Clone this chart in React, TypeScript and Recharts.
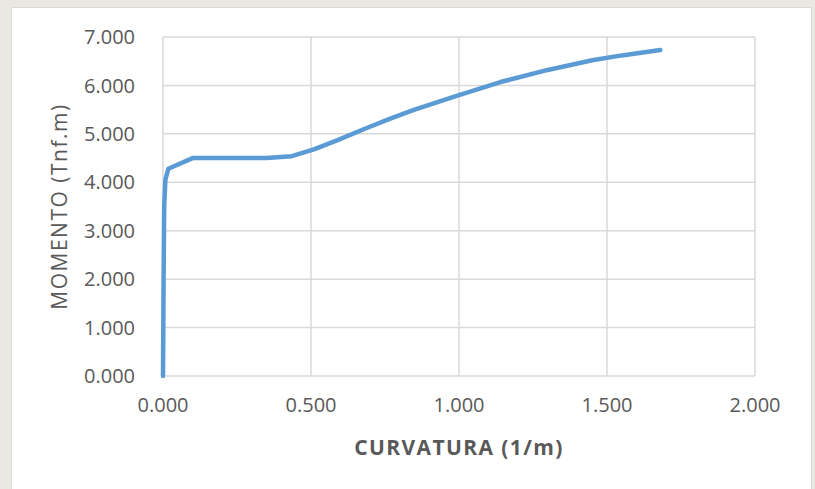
import React from "react";
import { LineChart, Line, XAxis, YAxis, CartesianGrid, Label } from "recharts";

const curvature = [0, 0.002, 0.004, 0.008, 0.018, 0.1, 0.35, 0.435, 0.51, 0.59, 0.68, 0.77, 0.85, 1.0, 1.14, 1.3, 1.45, 1.55, 1.68];
const moment = [0, 2.0, 3.5, 4.05, 4.28, 4.5, 4.5, 4.54, 4.68, 4.87, 5.1, 5.32, 5.5, 5.8, 6.07, 6.32, 6.52, 6.62, 6.73];
const xTicks = [0, 0.5, 1, 1.5, 2];
const yTicks = [0, 1, 2, 3, 4, 5, 6, 7];
const xTitle = "CURVATURA (1/m)";
const yTitle = "MOMENTO (Tnf.m)";

const data = curvature.map((c, i) => ({ x: c, y: moment[i] }));

const FONT = "'Open Sans', sans-serif";
const TEXT = "#595959";
const fmt = (v: number) => v.toFixed(3);

export default function App() {
  return (
    <div style={{ position: "absolute", left: 0, top: 0, width: 815, height: 489, background: "#e9e9e2", overflow: "hidden" }}>
      <div style={{ position: "absolute", left: 11, top: 7, width: 799, height: 490, background: "#ffffff", border: "1px solid #d9d9d9" }} />
      <div style={{ position: "absolute", left: 0, top: 0 }}>
        <LineChart width={815} height={489} data={data} margin={{ top: 37, right: 60, bottom: 0, left: 0 }}>
          <CartesianGrid stroke="#d9d9d9" strokeWidth={1.5} />
          <XAxis
            type="number"
            dataKey="x"
            domain={[0, 2]}
            ticks={xTicks}
            tickFormatter={fmt}
            axisLine={false}
            tickLine={false}
            tickSize={0}
            tickMargin={22}
            height={113}
            tick={{ fill: TEXT, fontSize: 20, fontFamily: FONT }}
          >
            <Label
              content={(props: any) => {
                const vb = props.viewBox;
                return (
                  <text
                    x={vb.x + vb.width / 2}
                    y={vb.y + 71}
                    textAnchor="middle"
                    dominantBaseline="central"
                    fill={TEXT}
                    fontFamily={FONT}
                    fontWeight={700}
                    fontSize={21}
                    letterSpacing={1.4}
                  >
                    {xTitle}
                  </text>
                );
              }}
            />
          </XAxis>
          <YAxis
            type="number"
            dataKey="y"
            domain={[0, 7]}
            ticks={yTicks}
            tickFormatter={fmt}
            axisLine={false}
            tickLine={false}
            tickSize={0}
            tickMargin={28}
            width={163}
            tick={{ fill: TEXT, fontSize: 20, fontFamily: FONT }}
          >
            <Label
              content={(props: any) => {
                const vb = props.viewBox;
                const cx = vb.x + 59;
                const cy = vb.y + vb.height / 2;
                return (
                  <text
                    x={cx}
                    y={cy}
                    transform={`rotate(-90 ${cx} ${cy})`}
                    textAnchor="middle"
                    dominantBaseline="central"
                    fill={TEXT}
                    fontFamily={FONT}
                    fontSize={21}
                    letterSpacing={1.5}
                  >
                    {yTitle}
                  </text>
                );
              }}
            />
          </YAxis>
          <Line
            type="linear"
            dataKey="y"
            stroke="#5b9bd5"
            strokeWidth={4.5}
            strokeLinecap="round"
            strokeLinejoin="round"
            dot={false}
            isAnimationActive={false}
          />
        </LineChart>
      </div>
    </div>
  );
}
